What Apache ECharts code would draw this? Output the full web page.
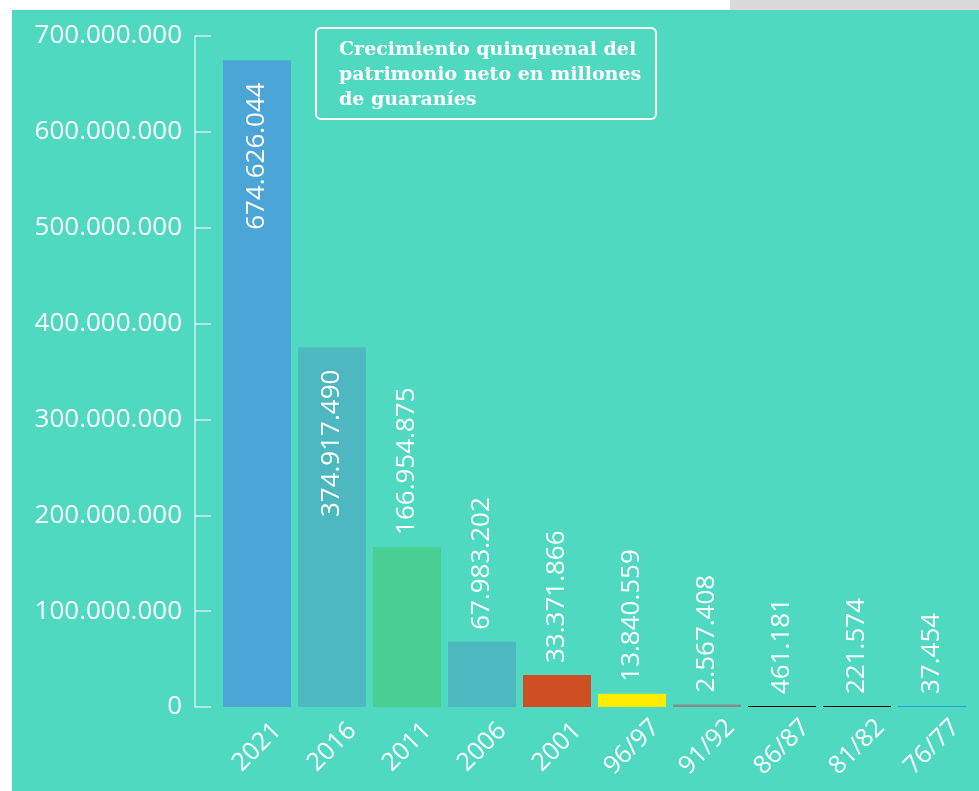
<!DOCTYPE html>
<html>
<head>
<meta charset="utf-8">
<script src="https://cdn.jsdelivr.net/npm/echarts@6/dist/echarts.min.js"></script>
<style>
  html, body { margin: 0; padding: 0; background: #fff; width: 979px; height: 791px; overflow: hidden; }
  .strip { position: absolute; left: 730px; top: 0; width: 249px; height: 10px; background: #dadada; }
  #chart { position: absolute; left: 12px; top: 10px; width: 967px; height: 781px; }
</style>
</head>
<body>
<div class="strip"></div>
<div id="chart"></div>
<script>
const categories = ['2021', '2016', '2011', '2006', '2001', '96/97', '91/92', '86/87', '81/82', '76/77']
const values = [674626044, 374917490, 166954875, 67983202, 33371866, 13840559, 2567408, 461181, 221574, 37454]
const barColors = ['#4ba6d7', '#4db8bf', '#4acf93', '#4db8bf', '#d04f22', '#ffed00', '#8a8a8a', '#000000', '#000000', '#1e9fe6']
// labels inside the bar for the two tallest ones
const insideLabel = [true, true, false, false, false, false, false, false, false, false]

const fmt = v => String(v).replace(/\B(?=(\d{3})+(?!\d))/g, '.')

const myChart = echarts.init(document.getElementById('chart'))
const option = {
  backgroundColor: '#4fd9c0',
  animation: false,
  textStyle: { fontFamily: 'Open Sans' },
  grid: { left: 207.5, right: 9.5, top: 26, bottom: 84, containLabel: false },
  graphic: [
    {
      type: 'rect',
      shape: { x: 304, y: 18, width: 340, height: 91, r: 5 },
      style: { fill: 'none', stroke: '#fff', lineWidth: 2 },
    },
    {
      type: 'text',
      x: 327,
      y: 28,
      style: {
        text: 'Crecimiento quinquenal del\npatrimonio neto en millones\nde guaraníes',
        fill: '#fff',
        font: 'bold 19px "DejaVu Serif"',
        lineHeight: 25,
        verticalAlign: 'top',
      },
    },
  ],
  xAxis: {
    type: 'category',
    data: categories,
    axisLine: { show: false },
    axisTick: { show: false },
    axisLabel: {
      rotate: 45,
      interval: 0,
      color: '#fff',
      fontSize: 25,
      margin: 40,
      align: 'center',
      verticalAlign: 'middle',
    },
  },
  yAxis: {
    type: 'value',
    min: 0,
    max: 700000000,
    interval: 100000000,
    offset: 24.5,
    axisLine: { show: true, lineStyle: { color: 'rgba(255,255,255,0.7)', width: 1.5 } },
    axisTick: { show: true, inside: true, length: 16, lineStyle: { color: 'rgba(255,255,255,0.7)', width: 1.5 } },
    splitLine: { show: false },
    axisLabel: { color: '#fff', fontSize: 26, margin: 13, formatter: v => fmt(v) },
  },
  series: [
    {
      type: 'bar',
      barWidth: 68,
      barMinHeight: 1,
      data: values.map((v, i) => ({
        value: v,
        itemStyle: { color: barColors[i] },
        label: insideLabel[i]
          ? { position: 'insideTop', distance: 22, align: 'right' }
          : { position: 'top', distance: 12, align: 'left' },
      })),
      label: {
        show: true,
        rotate: 90,
        verticalAlign: 'middle',
        color: '#fff',
        fontSize: 26,
        formatter: p => fmt(p.value),
      },
    },
  ],
}
myChart.setOption(option)
</script>
</body>
</html>
